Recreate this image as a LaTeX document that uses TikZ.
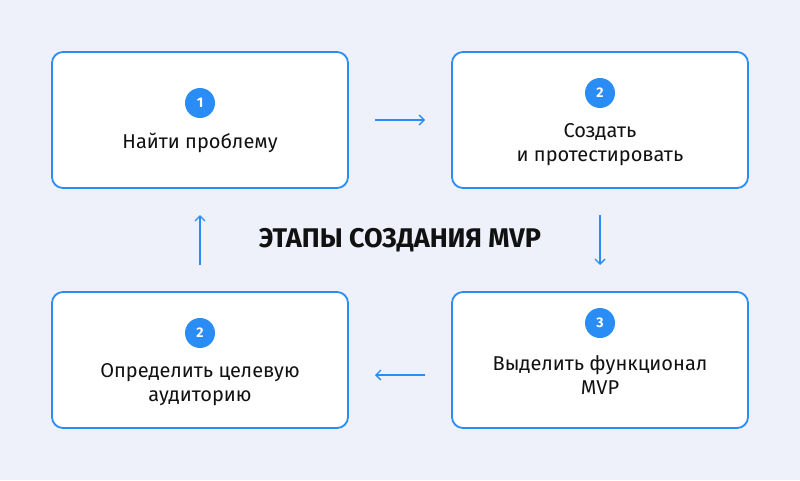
\documentclass[tikz,border=0pt]{standalone}
\usepackage{fontspec}
\setmainfont{Fira Sans}
\usetikzlibrary{arrows.meta}
\definecolor{bg}{HTML}{EEF0FA}
\definecolor{bl}{HTML}{2A8CF5}
\definecolor{tx}{HTML}{111111}
\begin{document}
\begin{tikzpicture}[x=1pt,y=-1pt,
 card/.style={draw=bl,line width=1.8pt,fill=white,rounded corners=11pt,minimum width=296pt,minimum height=136pt},
 num/.style={circle,fill=bl,text=white,minimum size=30pt,inner sep=0pt,font=\fontsize{14}{14}\selectfont\bfseries},
 lbl/.style={align=center,text=tx,font=\fontsize{20}{24}\selectfont},
 arr/.style={draw=bl,line width=1.3pt,-{Straight Barb[length=5pt,width=10pt]}}]
\fill[bg] (0,0) rectangle (800,480);
\node[card] (c1) at (200,120) {};
\node[card] (c2) at (600,120) {};
\node[card] (c3) at (200,360) {};
\node[card] (c4) at (600,360) {};
\node[num] (n1) at (200,103) {1};
\node[lbl] (t1) at (200,143) {Найти проблему};
\node[num] (n2) at (600,93) {2};
\node[lbl] (t2) at (600,145) {Создать\\и протестировать};
\node[num] (n3) at (200,333) {2};
\node[lbl] (t3) at (200,385) {Определить целевую\\аудиторию};
\node[num] (n4) at (600,323) {3};
\node[lbl] (t4) at (600,375) {Выделить функционал\\MVP};
\node[text=tx,font=\fontsize{27}{27}\selectfont\bfseries] (title) at (400,240) {ЭТАПЫ СОЗДАНИЯ MVP};
\coordinate (a1) at (375,120); \coordinate (b1) at (425,120);
\coordinate (a2) at (600,215); \coordinate (b2) at (600,265);
\coordinate (a3) at (425,375); \coordinate (b3) at (375,375);
\coordinate (a4) at (200,265); \coordinate (b4) at (200,215);
\draw[arr] (a1) -- (b1);
\draw[arr] (a2) -- (b2);
\draw[arr] (a3) -- (b3);
\draw[arr] (a4) -- (b4);
\end{tikzpicture}
\end{document}
